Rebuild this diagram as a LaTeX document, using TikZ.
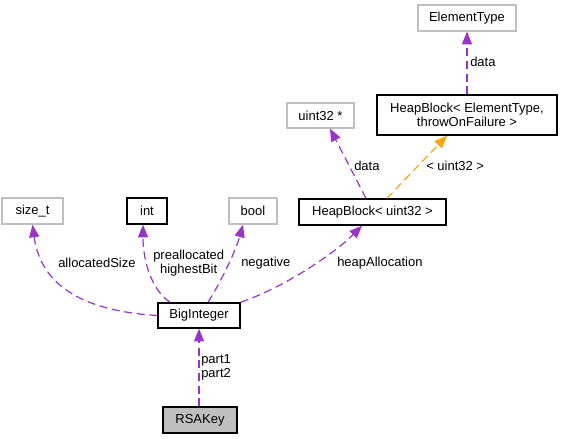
\documentclass[tikz,border=0pt]{standalone}
\usepackage{fontspec}
\setmainfont{Liberation Sans}
\usetikzlibrary{arrows.meta,calc}
\definecolor{pur}{HTML}{9A32CD}
\definecolor{org}{HTML}{FFA500}
\definecolor{gr}{HTML}{BFBFBF}
\tikzset{
  cls/.style={draw=black,line width=1pt,inner sep=0pt,align=center},
  ext/.style={draw=gr,line width=0.9pt,inner sep=0pt,align=center},
  use/.style={draw=pur,line width=0.9pt,dash pattern=on 6pt off 3.5pt,-{Triangle[length=9.5pt,width=7.5pt]}},
  tmpl/.style={draw=org,line width=0.9pt,dash pattern=on 6pt off 3.5pt,-{Triangle[length=9.5pt,width=7.5pt]}},
  lbl/.style={inner sep=0pt,anchor=west,align=center}}
\begin{document}
\begin{tikzpicture}[x=0.75pt,y=-0.75pt,font=\fontsize{9.75}{10.5}\selectfont]
\useasboundingbox (0,0) rectangle (562,439);
% nodes
\node[ext,minimum width=73.5pt,minimum height=19.5pt] (et) at (467,18) {ElementType};
\node[cls,minimum width=135pt,minimum height=30pt] (hbet) at (467,115) {HeapBlock< ElementType,\\throwOnFailure >};
\node[ext,minimum width=50.25pt,minimum height=18.75pt] (u32p) at (320.5,115.5) {uint32 *};
\node[cls,minimum width=110.25pt,minimum height=19.5pt] (hbu) at (372.5,212) {HeapBlock< uint32 >};
\node[ext,minimum width=45.75pt,minimum height=19.5pt] (sizet) at (32.5,211) {size\_t};
\node[cls,minimum width=30pt,minimum height=19.5pt] (int) at (147,211) {int};
\node[ext,minimum width=36pt,minimum height=19.5pt] (bool) at (253,211) {bool};
\node[cls,minimum width=61.5pt,minimum height=18.75pt] (big) at (199,315.5) {BigInteger};
\node[cls,fill=gr,minimum width=55.5pt,minimum height=19.5pt] (rsa) at (200,420) {RSAKey};
% edges
\draw[use] (big.south |- rsa.north) -- (big.south);
\draw[use] (big.west) .. controls (100,312) and (42,295) .. (sizet.south);
\draw[use] ($(big.north)+(-29,0)$) .. controls (152,290) and (143,262) .. ($(int.south)+(-4,0)$);
\draw[use] ($(big.north)+(9,0)$) .. controls (222,280) and (236,250) .. ($(bool.south)+(-10,0)$);
\draw[use] (big.north east) .. controls (290,285) and (338,250) .. ($(hbu.south)+(-10.5,0)$);
\draw[use] ($(hbu.north)+(-6.5,0)$) -- ($(u32p.south)+(9.5,0)$);
\draw[tmpl] ($(hbu.north)+(14.5,0)$) -- ($(hbet.south)+(-20,0)$);
\draw[use] (hbet.north) -- (et.south);
% labels
\node[lbl] (l1) at (470,62) {data};
\node[lbl] (l2) at (354,166) {data};
\node[lbl] (l3) at (426,166) {< uint32 >};
\node[lbl] (l4) at (58,263) {allocatedSize};
\node[lbl] (l5) at (153,263) {preallocated\\highestBit};
\node[lbl] (l6) at (241,263) {negative};
\node[lbl] (l7) at (337,263) {heapAllocation};
\node[lbl] (l8) at (201,367) {part1\\part2};
\end{tikzpicture}
\end{document}
